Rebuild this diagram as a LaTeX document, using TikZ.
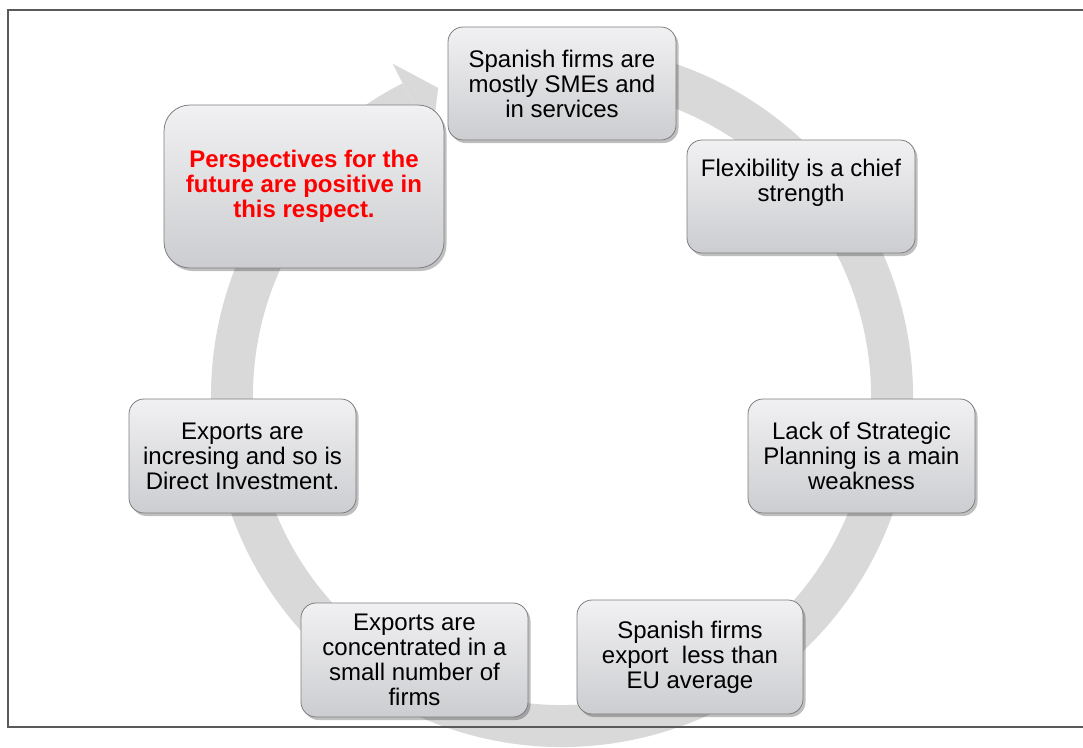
\documentclass[tikz,border=0pt]{standalone}
\usepackage{fontspec}
\setmainfont{Liberation Sans}
\usetikzlibrary{shadows}
\definecolor{ringgray}{RGB}{217,217,217}
\definecolor{framegray}{RGB}{90,90,90}
\definecolor{boxtop}{RGB}{241,241,243}
\definecolor{boxbot}{RGB}{204,205,208}
\definecolor{boxedge}{RGB}{125,125,125}
\definecolor{perspred}{RGB}{255,0,0}
\begin{document}
\begin{tikzpicture}[x=1pt,y=1pt,
  ring/.style={line width=42pt, draw=ringgray},
  cyclebox/.style={draw=boxedge, line width=0.8pt, rounded corners=15pt,
    top color=boxtop, bottom color=boxbot, align=center, inner sep=0pt,
    font=\fontsize{24}{25}\selectfont,
    drop shadow={shadow xshift=2.5pt, shadow yshift=-3pt, opacity=0.25, fill=black}},
  ]
\useasboundingbox (0,0) rectangle (1083,-747);
\clip (0,0) rectangle (1083,-747);
% ring with arrowhead
\coordinate (c) at (562,-396);
\draw[ring] ([shift={(100:330)}]c) arc[start angle=100, end angle=-243, radius=330];
\fill[ringgray] ([shift={(117:373)}]c) -- ([shift={(111.9:332)}]c) -- ([shift={(117:287)}]c) -- cycle;
% frame
\draw[framegray, line width=2pt] (1090,-10) -- (8,-10) -- (8,-727) -- (1090,-727);
% boxes
\node[cyclebox, minimum width=228pt, minimum height=113pt] (n1) at (562,-83.5)
  {Spanish firms are\\mostly SMEs and\\in services};
\node[cyclebox, minimum width=228pt, minimum height=113pt] (n2) at (801,-196.5)
  {Flexibility is a chief\\strength\\\strut};
\node[cyclebox, minimum width=227pt, minimum height=114pt] (n3) at (861.5,-456)
  {Lack of Strategic\\Planning is a main\\weakness};
\node[cyclebox, minimum width=226pt, minimum height=114pt] (n4) at (690,-657)
  {Spanish firms\\export\ \ less than\\EU average};
\node[cyclebox, minimum width=227pt, minimum height=114pt] (n5) at (414.5,-660)
  {Exports are\\concentrated in a\\small number of\\firms};
\node[cyclebox, minimum width=227pt, minimum height=114pt] (n6) at (242.5,-456)
  {Exports are\\incresing and so is\\Direct Investment.};
\node[cyclebox, rounded corners=26pt, minimum width=280pt, minimum height=163pt,
  text=perspred, font=\fontsize{24}{25}\selectfont\bfseries] (n0) at (304,-186.5)
  {Perspectives for the\\future are positive in\\this respect.};
\end{tikzpicture}
\end{document}
